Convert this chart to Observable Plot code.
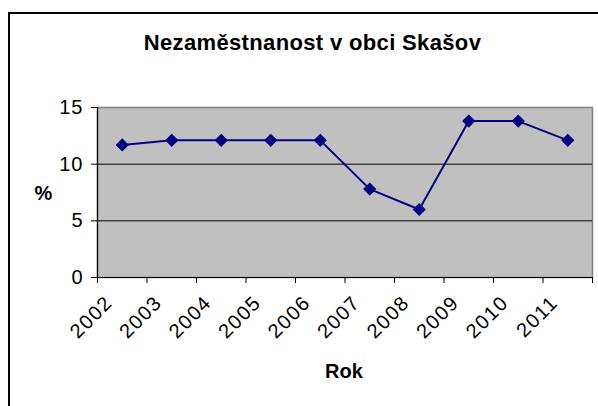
<!DOCTYPE html>
<html><head><meta charset="utf-8">
<script src="https://cdn.jsdelivr.net/npm/d3@7"></script>
<script src="https://cdn.jsdelivr.net/npm/@observablehq/plot@0.6"></script>
<style>
html,body{margin:0;padding:0;background:#fff;overflow:hidden;}
#wrap{position:relative;width:598px;height:406px;overflow:hidden;font-family:"Liberation Sans",Arial,sans-serif;color:#000;}
#border{position:absolute;left:8px;top:12px;width:700px;height:500px;border:2px solid #000;box-sizing:border-box;}
#chart{position:absolute;left:0;top:0;}
.lbl{position:absolute;font-weight:bold;line-height:1;text-align:center;white-space:nowrap;}
#title{left:0;width:625px;top:32px;font-size:22px;letter-spacing:0.35px;}
#ylab{left:0;width:87px;top:183px;font-size:20px;}
#xlab{left:244px;width:200px;top:361px;font-size:20px;}
.ytick text{letter-spacing:1px;}
.xtick text{letter-spacing:1.5px;}
</style></head>
<body>
<div id="wrap">
  <div id="border"></div>
  <div id="chart"></div>
  <div class="lbl" id="title">Nezaměstnanost v obci Skašov</div>
  <div class="lbl" id="ylab">%</div>
  <div class="lbl" id="xlab">Rok</div>
</div>
<script>
const years = ["2002","2003","2004","2005","2006","2007","2008","2009","2010","2011"];
const values = [11.7, 12.1, 12.1, 12.1, 12.1, 7.8, 6.0, 13.8, 13.8, 12.1];
const yTicks = [0, 5, 10, 15];
const gridTicks = [5, 10];

const data = years.map((year, i) => ({year, value: values[i], pos: i + 0.5}));
const edges = d3.range(years.length + 1);

const chart = Plot.plot({
  width: 598,
  height: 406,
  marginLeft: 97,
  marginRight: 6,
  marginTop: 107,
  marginBottom: 129,
  style: {background: "transparent", fontFamily: "'Liberation Sans', Arial, sans-serif", fontSize: "20px", color: "#000", overflow: "visible"},
  x: {domain: [0, years.length], label: null},
  y: {domain: [0, 15], label: null},
  marks: [
    Plot.frame({fill: "#c0c0c0", stroke: "#808080", strokeWidth: 1.5}),
    Plot.gridY(gridTicks, {stroke: "#000", strokeOpacity: 1, strokeWidth: 1}),
    Plot.ruleX([0], {stroke: "#000", strokeWidth: 1.2}),
    Plot.ruleY([0], {stroke: "#000", strokeWidth: 1.2}),
    Plot.axisY(yTicks, {tickSize: 6, tickPadding: 8, label: null, stroke: "#000", className: "ytick"}),
    Plot.axisX(edges, {tickSize: 6, tickFormat: () => "", label: null, stroke: "#000"}),
    Plot.axisX(data.map(d => d.pos), {
      tickSize: 0, tickRotate: -45, textAnchor: "end", label: null, className: "xtick",
      tickFormat: p => years[Math.floor(p)], dx: -13, dy: 10
    }),
    Plot.line(data, {x: "pos", y: "value", stroke: "#000080", strokeWidth: 2}),
    Plot.dot(data, {x: "pos", y: "value", symbol: "diamond2", r: 5, fill: "#000080", stroke: "#000080"})
  ]
});
document.getElementById("chart").appendChild(chart);
</script>
</body></html>
